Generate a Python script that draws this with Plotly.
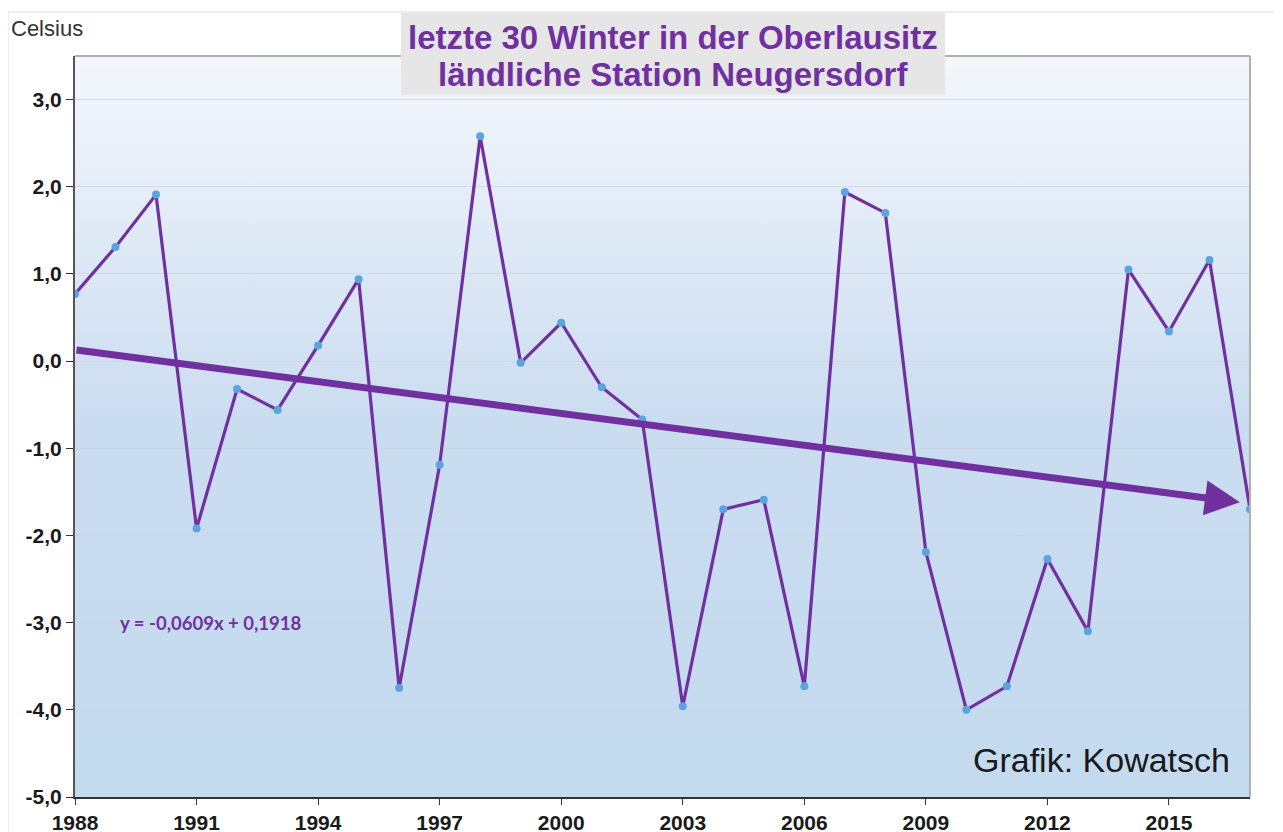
import base64
import plotly.graph_objects as go

years = list(range(1988, 2018))
temps = [0.77, 1.31, 1.91, -1.92, -0.32, -0.56, 0.18, 0.94, -3.75, -1.19,
         2.58, -0.02, 0.44, -0.30, -0.67, -3.96, -1.70, -1.59, -3.73, 1.94,
         1.70, -2.19, -4.00, -3.73, -2.27, -3.10, 1.05, 0.34, 1.16, -1.70]
trend_slope = -0.0609
trend_intercept = 0.1918
y_ticks = [3, 2, 1, 0, -1, -2, -3, -4, -5]
y_tick_labels = ["3,0", "2,0", "1,0", "0,0", "-1,0", "-2,0", "-3,0", "-4,0", "-5,0"]
x_ticks = list(range(1988, 2016, 3))
title_lines = ["letzte 30 Winter in der Oberlausitz", "ländliche Station Neugersdorf"]

PURPLE = "#7030a0"

trend_start = trend_slope * 1 + trend_intercept
trend_end = trend_slope * len(years) + trend_intercept

# page body has an 8px margin; compensate
OFF = 8
W, H = 1283 - OFF, 832 - OFF
ML, MR, MT, MB = 75 - OFF, 33, 56 - OFF, 35
PW = W - ML - MR
PH = H - MT - MB


def px(X):
    return (X - OFF - ML) / PW


def py(Y):
    return (H - MB - (Y - OFF)) / PH


fig = go.Figure()

fig.add_trace(go.Scatter(
    x=years, y=temps, mode="lines+markers",
    line=dict(color=PURPLE, width=3.2),
    marker=dict(color="#5aa5e0", size=8),
    hoverinfo="x+y", showlegend=False,
))

svg = ('<svg xmlns="http://www.w3.org/2000/svg" width="100" height="100" '
       'preserveAspectRatio="none"><defs><linearGradient id="g" x1="0" y1="0" x2="0" y2="1">'
       '<stop offset="0" stop-color="#f4f7fc"/><stop offset="0.5" stop-color="#cadcf0"/>'
       '<stop offset="1" stop-color="#c4daef"/></linearGradient></defs>'
       '<rect width="100" height="100" fill="url(#g)"/></svg>')
svg_uri = "data:image/svg+xml;base64," + base64.b64encode(svg.encode()).decode()

shapes = [
    dict(type="line", xref="paper", yref="paper", x0=0, x1=1, y0=1, y1=1,
         line=dict(color="#b0b0b0", width=2), layer="above"),
    dict(type="line", xref="paper", yref="paper", x0=1, x1=1, y0=0, y1=1,
         line=dict(color="#b0b0b0", width=2), layer="above"),
    dict(type="rect", xref="paper", yref="paper",
         x0=px(8), x1=1.2, y0=-0.2, y1=py(12),
         line=dict(color="#dcdcdc", width=1), layer="below"),
    dict(type="rect", xref="paper", yref="paper",
         x0=px(401), x1=px(945), y0=py(95), y1=py(13),
         fillcolor="#e6e6e6", line=dict(width=0), layer="above"),
]

annotations = [
    dict(x=years[-1] - 0.25, y=trend_end + 0.015, ax=years[0], ay=trend_start,
         xref="x", yref="y", axref="x", ayref="y", text="", showarrow=True,
         arrowhead=2, arrowsize=1.0, arrowwidth=7, arrowcolor=PURPLE),
    dict(xref="paper", yref="paper", x=px(673), y=py(38),
         text="<b>%s</b>" % title_lines[0], showarrow=False,
         font=dict(family="Liberation Sans, Arial", size=33, color=PURPLE),
         xanchor="center", yanchor="middle"),
    dict(xref="paper", yref="paper", x=px(673), y=py(74),
         text="<b>%s</b>" % title_lines[1], showarrow=False,
         font=dict(family="Liberation Sans, Arial", size=33, color=PURPLE),
         xanchor="center", yanchor="middle"),
    dict(xref="paper", yref="paper", x=px(9), y=py(28),
         text="Celsius", showarrow=False, xanchor="left", yanchor="middle",
         font=dict(family="Liberation Sans, Arial", size=22, color="#333333")),
    dict(xref="paper", yref="paper", x=px(1232), y=py(760),
         text="Grafik: Kowatsch", showarrow=False, xanchor="right", yanchor="middle",
         font=dict(family="Liberation Sans, Arial", size=34, color="#1a1a1a")),
    dict(xref="paper", yref="paper", x=px(118), y=py(623),
         text="<b>y = -0,0609x + 0,1918</b>", showarrow=False,
         xanchor="left", yanchor="middle",
         font=dict(family="Lato, Liberation Sans", size=18.5, color=PURPLE)),
]

fig.update_layout(
    width=W, height=H,
    margin=dict(l=ML, r=MR, t=MT, b=MB),
    paper_bgcolor="white", plot_bgcolor="rgba(0,0,0,0)",
    shapes=shapes, annotations=annotations,
    images=[dict(source=svg_uri, xref="paper", yref="paper", x=0, y=1,
                 sizex=1, sizey=1, sizing="stretch", layer="below",
                 xanchor="left", yanchor="top")],
    font=dict(family="Liberation Sans, Arial", color="#1a1a1a"),
    xaxis=dict(range=[1988, 2017], tickvals=x_ticks, ticktext=[str(v) for v in x_ticks],
               showgrid=False, zeroline=False, showline=True, linecolor="#333333",
               linewidth=2, ticks="outside", ticklen=6, tickcolor="#333333",
               tickfont=dict(size=21, family="Liberation Sans, Arial", color="#1a1a1a",
                             weight="bold"),
               automargin=False),
    yaxis=dict(range=[-5, 3.5], tickvals=y_ticks, ticktext=y_tick_labels,
               showgrid=True, gridcolor="rgba(205,212,222,0.8)", gridwidth=1,
               zeroline=False, showline=True, linecolor="#555555", linewidth=2,
               ticks="outside", ticklen=7, tickcolor="#333333",
               tickfont=dict(size=21, family="Liberation Sans, Arial", color="#1a1a1a",
                             weight="bold"),
               automargin=False),
)

fig.write_html("out.html")
